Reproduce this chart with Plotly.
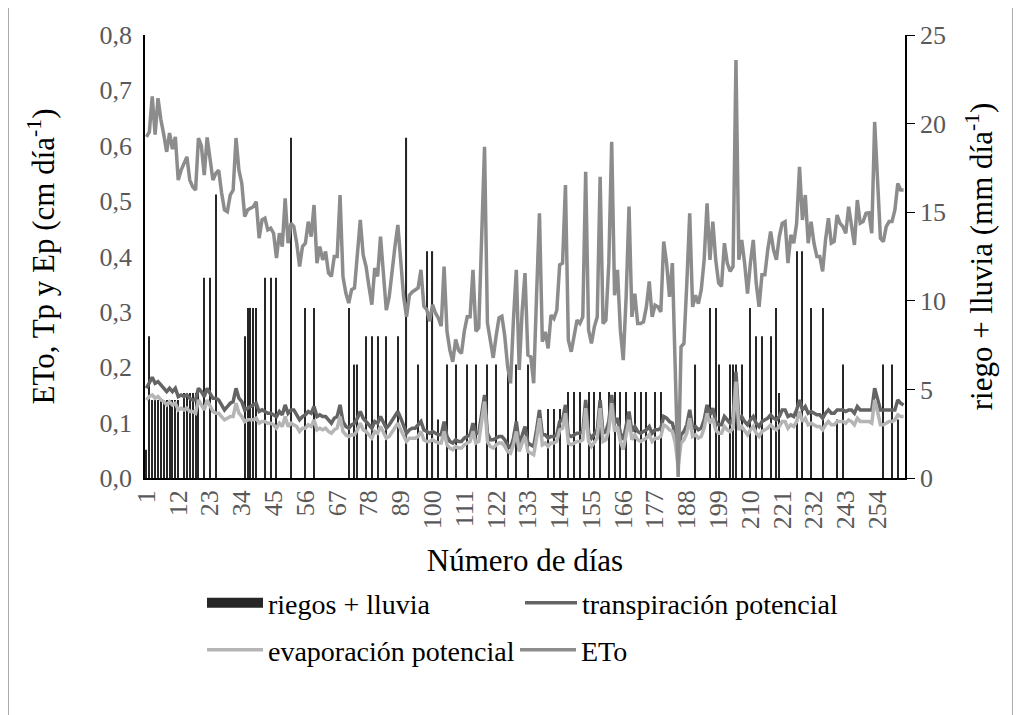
import plotly.graph_objects as go

# day index (x categories)
dias = [str(d) for d in range(1, 264)]

# ETo (cm/día)
eto = [
    0.616, 0.625, 0.689, 0.620, 0.686, 0.647, 0.620, 0.589, 0.623, 0.594,
    0.616, 0.538, 0.556, 0.568, 0.580, 0.538, 0.526, 0.520, 0.614, 0.600,
    0.547, 0.615, 0.580, 0.538, 0.550, 0.556, 0.515, 0.484, 0.481, 0.511,
    0.520, 0.614, 0.556, 0.532, 0.472, 0.484, 0.487, 0.490, 0.499, 0.433,
    0.466, 0.469, 0.448, 0.451, 0.442, 0.397, 0.442, 0.418, 0.505, 0.424,
    0.460, 0.454, 0.424, 0.382, 0.418, 0.424, 0.463, 0.436, 0.493, 0.388,
    0.418, 0.394, 0.409, 0.370, 0.364, 0.400, 0.400, 0.511, 0.364, 0.334,
    0.316, 0.340, 0.343, 0.400, 0.466, 0.403, 0.382, 0.346, 0.313, 0.379,
    0.364, 0.436, 0.364, 0.303, 0.327, 0.376, 0.418, 0.457, 0.400, 0.327,
    0.291, 0.330, 0.336, 0.340, 0.343, 0.376, 0.310, 0.304, 0.283, 0.313,
    0.298, 0.289, 0.274, 0.382, 0.265, 0.231, 0.210, 0.250, 0.231, 0.225,
    0.265, 0.291, 0.291, 0.376, 0.265, 0.271, 0.448, 0.598, 0.280, 0.244,
    0.217, 0.256, 0.289, 0.292, 0.256, 0.201, 0.171, 0.286, 0.376, 0.195,
    0.300, 0.370, 0.222, 0.219, 0.171, 0.330, 0.478, 0.246, 0.264, 0.234,
    0.294, 0.288, 0.303, 0.385, 0.388, 0.529, 0.249, 0.228, 0.255, 0.285,
    0.279, 0.291, 0.553, 0.267, 0.243, 0.273, 0.291, 0.544, 0.279, 0.285,
    0.388, 0.607, 0.330, 0.376, 0.267, 0.213, 0.327, 0.490, 0.291, 0.333,
    0.279, 0.279, 0.282, 0.309, 0.355, 0.291, 0.312, 0.309, 0.300, 0.427,
    0.388, 0.327, 0.388, 0.207, 0.002, 0.237, 0.243, 0.352, 0.478, 0.309,
    0.330, 0.315, 0.340, 0.394, 0.496, 0.394, 0.463, 0.394, 0.352, 0.346,
    0.424, 0.388, 0.373, 0.382, 0.755, 0.394, 0.430, 0.388, 0.333, 0.388,
    0.430, 0.352, 0.309, 0.367, 0.367, 0.412, 0.445, 0.412, 0.394, 0.436,
    0.460, 0.463, 0.388, 0.439, 0.424, 0.460, 0.562, 0.466, 0.511, 0.424,
    0.463, 0.424, 0.400, 0.400, 0.373, 0.430, 0.469, 0.424, 0.427, 0.475,
    0.460, 0.454, 0.442, 0.490, 0.460, 0.421, 0.502, 0.460, 0.463, 0.478,
    0.479, 0.442, 0.643, 0.538, 0.433, 0.427, 0.454, 0.463, 0.463, 0.484,
    0.532, 0.520, 0.520,
]

# transpiración potencial (cm/día)
tp = [
    0.162, 0.171, 0.182, 0.171, 0.174, 0.168, 0.162, 0.156, 0.162, 0.156,
    0.162, 0.147, 0.150, 0.147, 0.150, 0.144, 0.141, 0.141, 0.162, 0.156,
    0.147, 0.162, 0.153, 0.144, 0.144, 0.141, 0.132, 0.123, 0.129, 0.135,
    0.138, 0.162, 0.144, 0.138, 0.123, 0.126, 0.129, 0.132, 0.135, 0.120,
    0.123, 0.120, 0.117, 0.117, 0.114, 0.111, 0.120, 0.114, 0.132, 0.117,
    0.123, 0.123, 0.114, 0.105, 0.111, 0.114, 0.120, 0.117, 0.129, 0.111,
    0.114, 0.111, 0.111, 0.105, 0.099, 0.108, 0.111, 0.132, 0.102, 0.093,
    0.090, 0.096, 0.099, 0.108, 0.120, 0.108, 0.102, 0.096, 0.090, 0.102,
    0.099, 0.111, 0.099, 0.090, 0.096, 0.105, 0.114, 0.120, 0.108, 0.093,
    0.081, 0.087, 0.090, 0.090, 0.096, 0.102, 0.087, 0.084, 0.081, 0.084,
    0.081, 0.078, 0.078, 0.102, 0.075, 0.066, 0.063, 0.069, 0.066, 0.066,
    0.072, 0.075, 0.078, 0.099, 0.081, 0.081, 0.117, 0.150, 0.081, 0.069,
    0.069, 0.072, 0.075, 0.075, 0.069, 0.060, 0.054, 0.072, 0.102, 0.060,
    0.078, 0.093, 0.063, 0.060, 0.057, 0.087, 0.123, 0.078, 0.078, 0.072,
    0.075, 0.075, 0.078, 0.102, 0.105, 0.132, 0.078, 0.075, 0.078, 0.081,
    0.081, 0.084, 0.141, 0.081, 0.072, 0.081, 0.087, 0.141, 0.081, 0.084,
    0.102, 0.150, 0.099, 0.108, 0.081, 0.069, 0.096, 0.120, 0.084, 0.093,
    0.084, 0.081, 0.084, 0.087, 0.093, 0.081, 0.087, 0.087, 0.090, 0.111,
    0.108, 0.102, 0.099, 0.078, 0.045, 0.078, 0.084, 0.096, 0.123, 0.090,
    0.093, 0.087, 0.090, 0.105, 0.132, 0.114, 0.126, 0.102, 0.096, 0.096,
    0.111, 0.105, 0.099, 0.108, 0.192, 0.105, 0.111, 0.102, 0.096, 0.105,
    0.111, 0.099, 0.093, 0.102, 0.105, 0.108, 0.114, 0.108, 0.105, 0.111,
    0.123, 0.123, 0.111, 0.114, 0.111, 0.123, 0.141, 0.123, 0.129, 0.117,
    0.120, 0.117, 0.114, 0.114, 0.108, 0.117, 0.123, 0.117, 0.117, 0.123,
    0.123, 0.123, 0.120, 0.123, 0.123, 0.117, 0.129, 0.123, 0.123, 0.123,
    0.123, 0.123, 0.162, 0.141, 0.123, 0.123, 0.123, 0.123, 0.123, 0.123,
    0.141, 0.135, 0.132,
]

# evaporación potencial (cm/día)
ep = [
    0.141, 0.147, 0.150, 0.144, 0.147, 0.141, 0.138, 0.132, 0.138, 0.132,
    0.135, 0.123, 0.126, 0.123, 0.126, 0.120, 0.120, 0.117, 0.141, 0.132,
    0.123, 0.141, 0.129, 0.120, 0.117, 0.117, 0.111, 0.105, 0.108, 0.111,
    0.111, 0.135, 0.117, 0.111, 0.102, 0.105, 0.105, 0.105, 0.108, 0.099,
    0.102, 0.102, 0.099, 0.099, 0.096, 0.090, 0.099, 0.093, 0.111, 0.093,
    0.099, 0.096, 0.093, 0.084, 0.090, 0.090, 0.096, 0.093, 0.105, 0.087,
    0.090, 0.087, 0.090, 0.084, 0.081, 0.087, 0.090, 0.111, 0.084, 0.078,
    0.075, 0.078, 0.078, 0.087, 0.099, 0.087, 0.084, 0.078, 0.072, 0.084,
    0.081, 0.093, 0.081, 0.072, 0.075, 0.084, 0.093, 0.099, 0.087, 0.075,
    0.066, 0.072, 0.072, 0.072, 0.075, 0.084, 0.069, 0.066, 0.066, 0.069,
    0.066, 0.063, 0.063, 0.084, 0.060, 0.054, 0.051, 0.057, 0.054, 0.054,
    0.060, 0.063, 0.066, 0.084, 0.063, 0.066, 0.099, 0.138, 0.066, 0.057,
    0.054, 0.060, 0.063, 0.063, 0.057, 0.048, 0.045, 0.060, 0.084, 0.048,
    0.063, 0.075, 0.048, 0.045, 0.042, 0.072, 0.108, 0.060, 0.063, 0.057,
    0.063, 0.063, 0.066, 0.087, 0.090, 0.117, 0.063, 0.060, 0.063, 0.066,
    0.066, 0.069, 0.126, 0.066, 0.057, 0.066, 0.072, 0.126, 0.066, 0.069,
    0.087, 0.135, 0.084, 0.093, 0.066, 0.051, 0.081, 0.105, 0.069, 0.078,
    0.069, 0.066, 0.069, 0.072, 0.078, 0.066, 0.072, 0.072, 0.075, 0.096,
    0.093, 0.087, 0.084, 0.063, 0.021, 0.063, 0.069, 0.081, 0.108, 0.075,
    0.078, 0.072, 0.075, 0.090, 0.117, 0.099, 0.108, 0.087, 0.081, 0.081,
    0.093, 0.087, 0.084, 0.090, 0.174, 0.087, 0.093, 0.084, 0.078, 0.087,
    0.093, 0.081, 0.075, 0.084, 0.087, 0.090, 0.096, 0.090, 0.087, 0.093,
    0.102, 0.102, 0.090, 0.096, 0.093, 0.102, 0.120, 0.102, 0.108, 0.096,
    0.099, 0.096, 0.093, 0.093, 0.087, 0.096, 0.102, 0.096, 0.096, 0.102,
    0.102, 0.102, 0.099, 0.105, 0.102, 0.096, 0.108, 0.102, 0.102, 0.102,
    0.102, 0.099, 0.141, 0.120, 0.096, 0.096, 0.099, 0.102, 0.102, 0.105,
    0.114, 0.111, 0.111,
]

# riegos + lluvia (mm/día): days with water input and amount
riego_dias = [
    1, 2, 3, 4, 5, 6, 7, 8, 9, 10, 11, 12, 14, 15, 16, 17, 18, 19,
    21, 23, 25, 35, 36, 37, 38, 39, 42, 44, 46, 51, 56, 59,
    71, 73, 74, 77, 79, 81, 84, 88, 91, 95, 98, 100, 102,
    105, 108, 112, 115, 119, 122, 126, 129, 133,
    140, 142, 144, 147, 149, 151, 154, 156, 158, 161, 163, 165, 167,
    170, 172, 174, 177, 179, 191, 196, 198, 199, 203, 204, 205, 207,
    210, 212, 214, 217, 219, 220, 226, 228, 231, 235, 240, 242,
    256, 259, 261,
]
riego_mm = [
    1.6, 8.0, 4.4, 4.4, 4.4, 4.4, 4.4, 4.4, 4.4, 4.4, 4.4, 4.4, 4.8, 4.8, 4.8, 4.8, 4.8, 4.8,
    11.3, 11.3, 16.0, 8.0, 9.6, 9.6, 9.6, 9.6, 11.3, 11.3, 11.3, 19.2, 9.6, 9.6,
    9.6, 6.4, 6.4, 8.0, 8.0, 8.0, 8.0, 8.0, 19.2, 6.4, 12.8, 12.8, 3.3,
    6.4, 6.4, 6.4, 6.4, 6.4, 6.4, 6.4, 6.4, 6.4,
    3.9, 3.9, 3.9, 4.85, 4.85, 4.85, 4.85, 4.85, 4.85, 4.85, 4.85, 4.85, 4.85,
    4.85, 4.85, 4.85, 4.85, 4.85, 6.4, 9.6, 9.6, 6.4, 6.4, 6.4, 6.4, 6.4,
    9.6, 8.0, 8.0, 8.0, 9.6, 4.8, 12.8, 12.8, 9.6, 9.6, 3.3, 6.4,
    6.4, 6.4, 3.3,
]

riego = [0.0] * len(dias)
for d, mm in zip(riego_dias, riego_mm):
    riego[d - 1] = mm

x_ticks = dias[::11]

FONT = "Liberation Serif"
# the page puts the figure 8 px in from the window's top-left corner
W, H = 1013, 707


def legend_box(x_px, y_px, itemwidth):
    return dict(
        orientation="h", xref="container", yref="container",
        x=x_px / W, y=1 - y_px / H, xanchor="left", yanchor="middle",
        font=dict(size=28, color="black"), itemwidth=itemwidth,
        bgcolor="rgba(0,0,0,0)",
    )


fig = go.Figure()

# bars on the right axis (drawn first, behind the lines)
fig.add_trace(go.Bar(
    x=dias, y=riego, name="riegos + lluvia", yaxis="y",
    marker=dict(color="#262626", line=dict(width=0)),
    showlegend=False,
))
# legend swatch for the bars
fig.add_trace(go.Scatter(
    x=[None], y=[None], name="riegos + lluvia", mode="lines", yaxis="y2",
    line=dict(color="#262626", width=10), legend="legend",
))
fig.add_trace(go.Scatter(
    x=dias, y=tp, name="transpiración potencial", mode="lines", yaxis="y2",
    line=dict(color="#646464", width=3.5), legend="legend2",
))
fig.add_trace(go.Scatter(
    x=dias, y=ep, name="evaporación potencial", mode="lines", yaxis="y2",
    line=dict(color="#b5b5b5", width=3.5), legend="legend3",
))
fig.add_trace(go.Scatter(
    x=dias, y=eto, name="ETo", mode="lines", yaxis="y2",
    line=dict(color="#8c8c8c", width=3.5), legend="legend4",
))

fig.update_layout(
    width=W, height=H,
    margin=dict(l=137, r=116, t=27, b=237, autoexpand=False),
    paper_bgcolor="white", plot_bgcolor="white",
    font=dict(family=FONT, color="black"),
    separators=", ",
    bargap=0.62,
    xaxis=dict(
        type="category", tickmode="array", tickvals=x_ticks, ticktext=x_ticks,
        tickangle=-90, showline=True, linecolor="black", linewidth=1.5,
        ticks="", showgrid=False, tickfont=dict(size=26, color="#595959"),
        title=dict(text="Número de días", font=dict(size=31), standoff=30),
    ),
    yaxis=dict(
        side="right", range=[0, 25], dtick=5, showgrid=False, zeroline=False,
        showline=True, linecolor="black", linewidth=1.5,
        ticks="outside", ticklen=8, tickcolor="black",
        tickfont=dict(size=26, color="#595959"),
        title=dict(text="riego + lluvia (mm día<sup>-1</sup>)", font=dict(size=31), standoff=25),
    ),
    yaxis2=dict(
        overlaying="y", side="left", range=[0, 0.8], dtick=0.1, tickformat=".1f",
        showgrid=False, zeroline=False, showline=True, linecolor="black", linewidth=1.5,
        ticks="", ticklabelstandoff=6, tickfont=dict(size=26, color="#595959"),
        title=dict(text="ETo, Tp y Ep (cm día<sup>-1</sup>)", font=dict(size=31), standoff=36),
    ),
    legend=legend_box(194, 595, 56),
    legend2=legend_box(512, 595, 52),
    legend3=legend_box(194, 642, 56),
    legend4=legend_box(507, 642, 56),
    shapes=[
        dict(type="line", xref="paper", yref="paper",
             x0=(0 - 137) / 760, x1=(0 - 137) / 760,
             y0=(470 - 720) / 443, y1=(470 + 10) / 443,
             line=dict(color="#595959", width=1)),
        dict(type="line", xref="paper", yref="paper",
             x0=(1005 - 137) / 760, x1=(1005 - 137) / 760,
             y0=(470 - 720) / 443, y1=(470 + 10) / 443,
             line=dict(color="#595959", width=1)),
    ],
)

fig.write_html("out.html")
